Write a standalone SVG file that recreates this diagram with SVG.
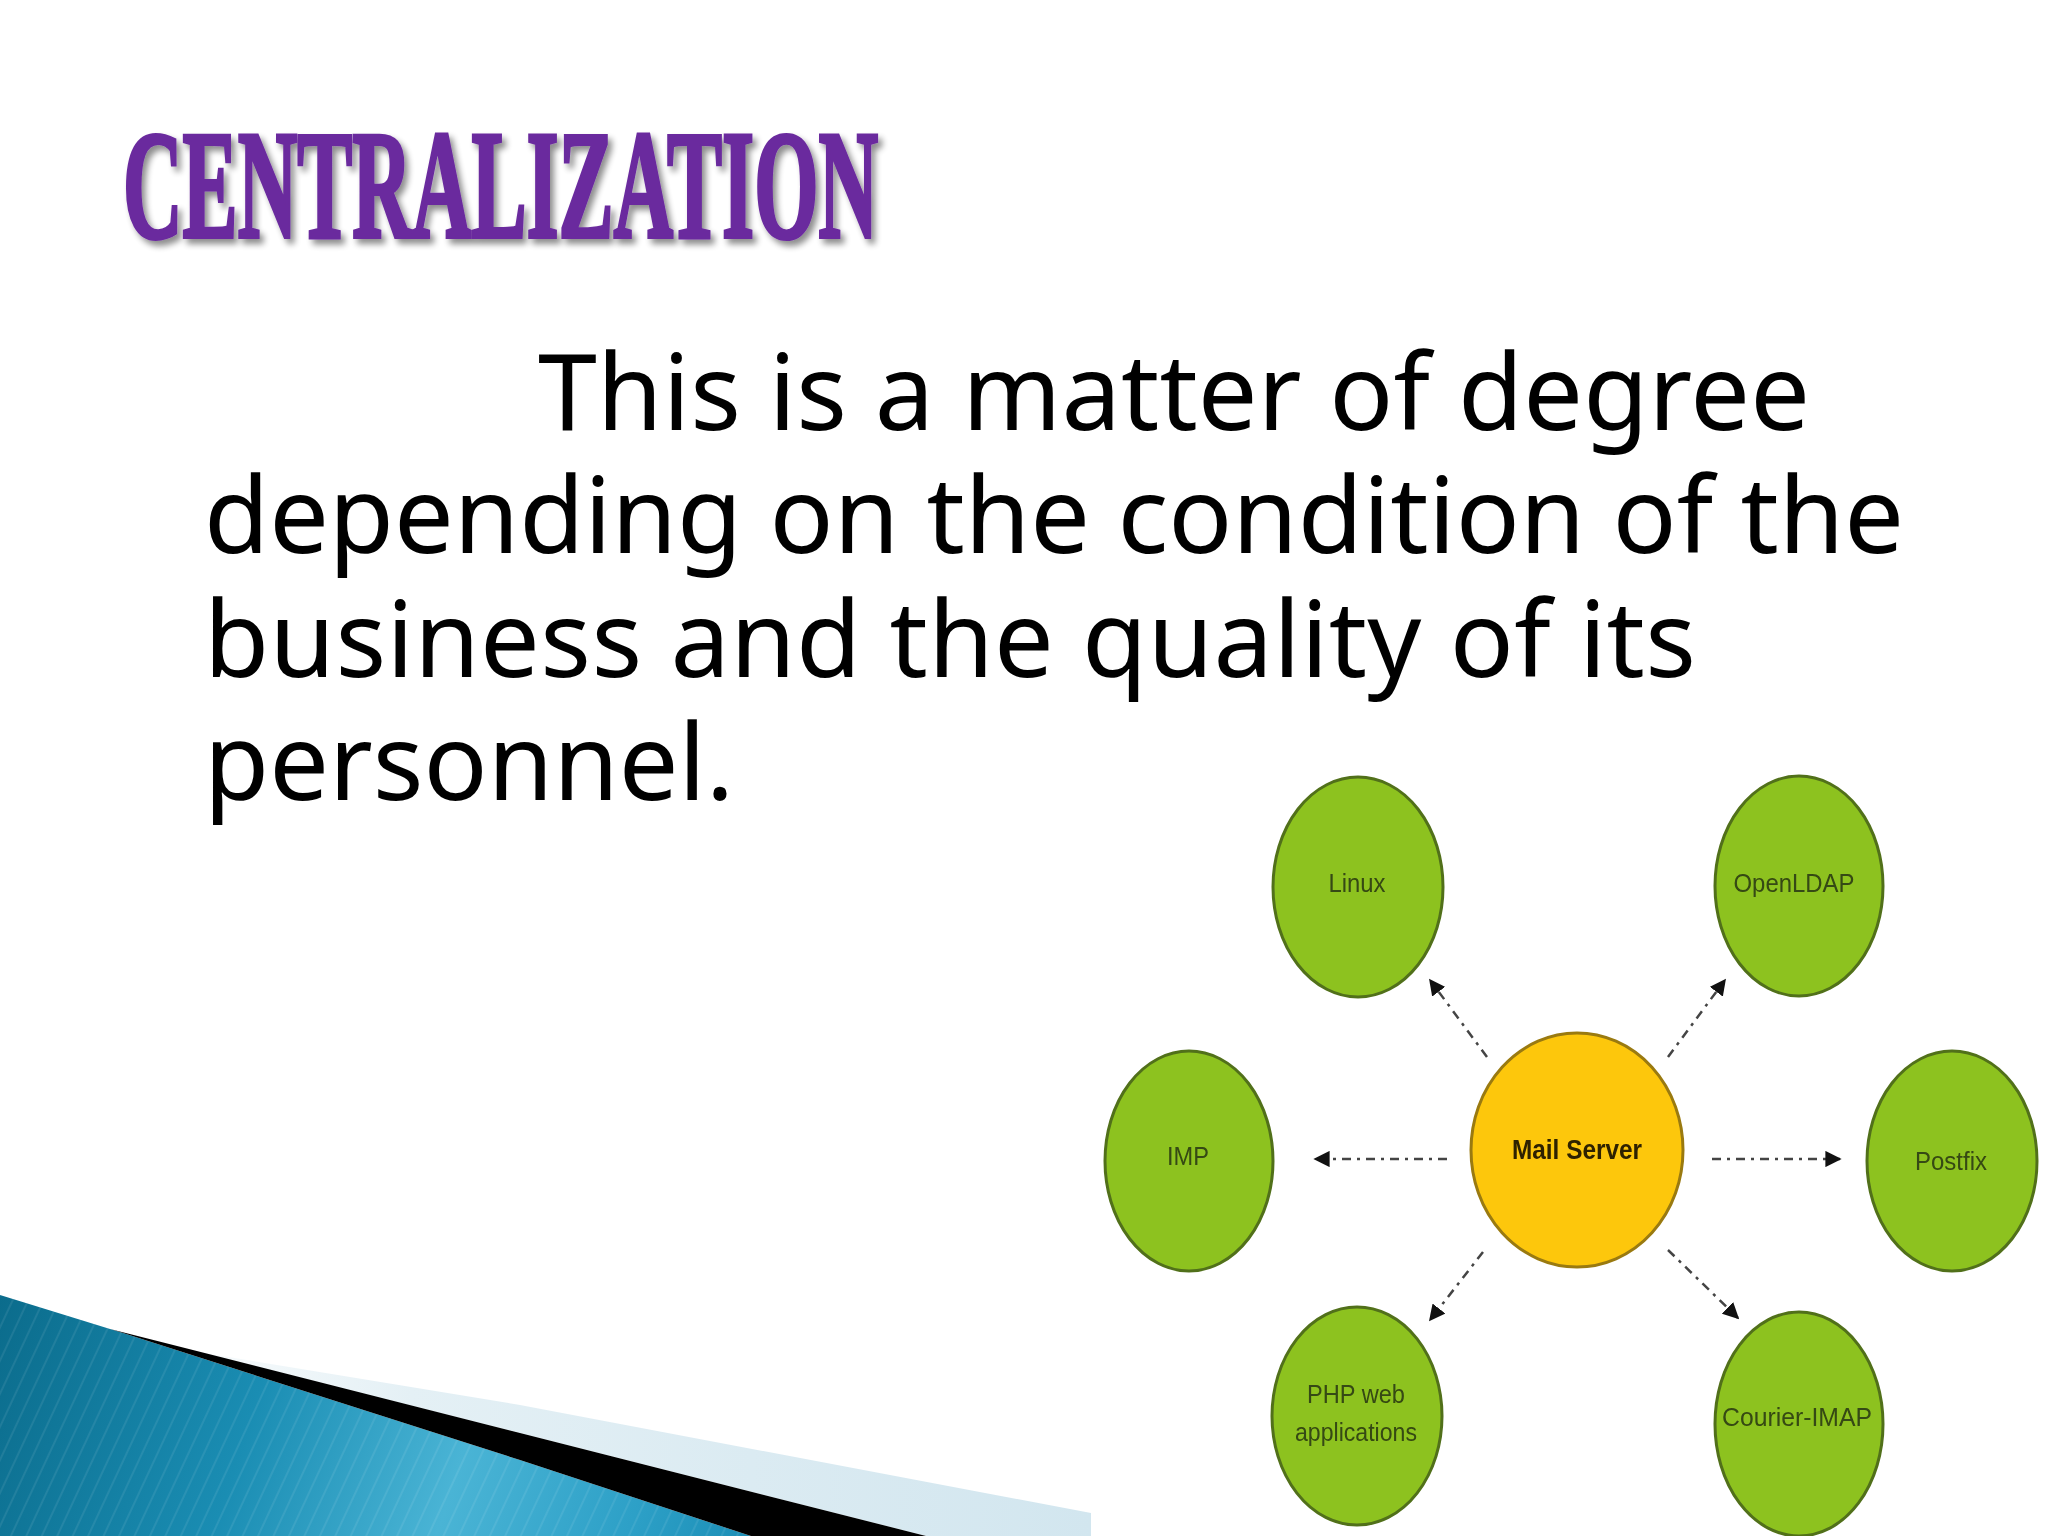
<svg xmlns="http://www.w3.org/2000/svg" width="2048" height="1536" viewBox="0 0 2048 1536">
  <defs>
    <style>
      .body { font-family: "Noto Sans", "Open Sans", "DejaVu Sans", sans-serif; font-size: 106px; fill: #000; }
      .title { font-family: "Liberation Serif", serif; font-weight: bold; font-size: 154px; fill: #6b2c9e; stroke: #6b2c9e; stroke-width: 4; }
      .node-g { fill: #8dc21f; stroke: #51701a; stroke-width: 3; }
      .node-y { fill: #fdc70c; stroke: #9a7a10; stroke-width: 3; }
      .lbl { font-family: "Liberation Sans", Arial, sans-serif; font-size: 25px; fill: #354812; text-anchor: middle; }
      .lbl-main { font-family: "Liberation Sans", Arial, sans-serif; font-size: 27px; font-weight: bold; fill: #2e2000; text-anchor: middle; }
      .conn { stroke: #444; stroke-width: 2.5; fill: none; stroke-dasharray: 9 6 3 6; marker-end: url(#arrow); }
    </style>
    <marker id="arrow" viewBox="0 0 10 10" refX="9" refY="5" markerWidth="6.5" markerHeight="6.5" markerUnits="strokeWidth" orient="auto">
      <path d="M0,0 L10,5 L0,10 Z" fill="#111"/>
    </marker>
    <filter id="shadow" x="-5%" y="-20%" width="110%" height="150%">
      <feGaussianBlur in="SourceAlpha" stdDeviation="3"/>
      <feOffset dx="4" dy="5" result="b"/>
      <feComponentTransfer in="b" result="s">
        <feFuncA type="linear" slope="0.45"/>
      </feComponentTransfer>
      <feMerge>
        <feMergeNode in="s"/>
        <feMergeNode in="SourceGraphic"/>
      </feMerge>
    </filter>
    <filter id="soft" x="-5%" y="-5%" width="110%" height="110%">
      <feGaussianBlur stdDeviation="0.6"/>
    </filter>
    <linearGradient id="blueGrad" x1="0" y1="1295" x2="751" y2="1536" gradientUnits="userSpaceOnUse">
      <stop offset="0" stop-color="#0b6c8c"/>
      <stop offset="0.35" stop-color="#1a8db3"/>
      <stop offset="0.62" stop-color="#4ab4d5"/>
      <stop offset="0.85" stop-color="#2da0c7"/>
      <stop offset="1" stop-color="#1b8eb6"/>
    </linearGradient>
    <linearGradient id="bandGrad" x1="120" y1="0" x2="1091" y2="0" gradientUnits="userSpaceOnUse">
      <stop offset="0" stop-color="#ffffff"/>
      <stop offset="0.3" stop-color="#e4f0f5"/>
      <stop offset="1" stop-color="#d2e6ef"/>
    </linearGradient>
    <pattern id="stripes" width="14" height="14" patternUnits="userSpaceOnUse" patternTransform="rotate(25)">
      <rect width="14" height="14" fill="none"/>
      <line x1="0" y1="0" x2="0" y2="14" stroke="#ffffff" stroke-opacity="0.08" stroke-width="4"/>
    </pattern>
  </defs>

  <rect width="2048" height="1536" fill="#ffffff"/>

  <!-- Title -->
  <g id="title">
    <text class="title" x="123" y="237" textLength="755" lengthAdjust="spacingAndGlyphs" filter="url(#shadow)">CENTRALIZATION</text>
  </g>

  <!-- Body text -->
  <g id="body-text">
    <text class="body" x="538" y="430" textLength="1272" lengthAdjust="spacing">This is a matter of degree</text>
    <text class="body" x="204" y="553" textLength="1700" lengthAdjust="spacing">depending on the condition of the</text>
    <text class="body" x="204" y="677" textLength="1492" lengthAdjust="spacing">business and the quality of its</text>
    <text class="body" x="204" y="800">personnel.</text>
  </g>

  <!-- Bottom-left decoration -->
  <g id="decoration">
    <path d="M115,1331 L167,1347 L520,1405 L1091,1513 L1091,1536 L926,1536 L520,1433 Z" fill="url(#bandGrad)"/>
    <path d="M0,1295 L123,1333 L520,1460 L751,1536 L0,1536 Z" fill="url(#blueGrad)"/>
    <path d="M0,1295 L123,1333 L520,1460 L751,1536 L0,1536 Z" fill="url(#stripes)"/>
    <path d="M110,1329 L520,1433 L926,1536 L751,1536 L520,1460 L123,1333 Z" fill="#000"/>
  </g>

  <!-- Connectors -->
  <g id="connectors">
    <line class="conn" x1="1487" y1="1057" x2="1430" y2="980"/>
    <line class="conn" x1="1668" y1="1057" x2="1725" y2="980"/>
    <line class="conn" x1="1447" y1="1159" x2="1315" y2="1159"/>
    <line class="conn" x1="1712" y1="1159" x2="1840" y2="1159"/>
    <line class="conn" x1="1483" y1="1252" x2="1430" y2="1320"/>
    <line class="conn" x1="1668" y1="1250" x2="1738" y2="1318"/>
  </g>

  <!-- Nodes -->
  <g id="node-linux">
    <ellipse class="node-g" cx="1358" cy="887" rx="85" ry="110"/>
    <text class="lbl" x="1357" y="892" textLength="57" lengthAdjust="spacingAndGlyphs" filter="url(#soft)">Linux</text>
  </g>
  <g id="node-openldap">
    <ellipse class="node-g" cx="1799" cy="886" rx="84" ry="110"/>
    <text class="lbl" x="1794" y="892" textLength="121" lengthAdjust="spacingAndGlyphs" filter="url(#soft)">OpenLDAP</text>
  </g>
  <g id="node-imp">
    <ellipse class="node-g" cx="1189" cy="1161" rx="84" ry="110"/>
    <text class="lbl" x="1188" y="1165" textLength="42" lengthAdjust="spacingAndGlyphs" filter="url(#soft)">IMP</text>
  </g>
  <g id="node-mail">
    <ellipse class="node-y" cx="1577" cy="1150" rx="106" ry="117"/>
    <text class="lbl-main" x="1577" y="1159" textLength="130" lengthAdjust="spacingAndGlyphs" filter="url(#soft)">Mail Server</text>
  </g>
  <g id="node-postfix">
    <ellipse class="node-g" cx="1952" cy="1161" rx="85" ry="110"/>
    <text class="lbl" x="1951" y="1170" textLength="72" lengthAdjust="spacingAndGlyphs" filter="url(#soft)">Postfix</text>
  </g>
  <g id="node-php">
    <ellipse class="node-g" cx="1357" cy="1416" rx="85" ry="109"/>
    <text class="lbl" x="1356" y="1403" textLength="98" lengthAdjust="spacingAndGlyphs" filter="url(#soft)">PHP web</text>
    <text class="lbl" x="1356" y="1441" textLength="122" lengthAdjust="spacingAndGlyphs" filter="url(#soft)">applications</text>
  </g>
  <g id="node-courier">
    <ellipse class="node-g" cx="1799" cy="1424" rx="84" ry="112"/>
    <text class="lbl" x="1797" y="1426" textLength="150" lengthAdjust="spacingAndGlyphs" filter="url(#soft)">Courier-IMAP</text>
  </g>
</svg>
